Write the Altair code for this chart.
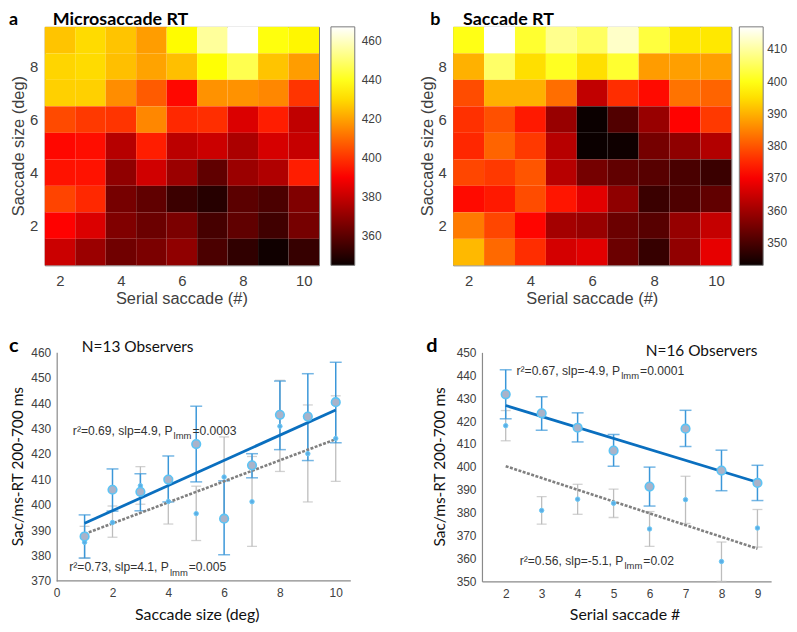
import altair as alt
import pandas as pd

# ---------------- data ----------------
serial = [2, 3, 4, 5, 6, 7, 8, 9, 10]
sizes = [9, 8, 7, 6, 5, 4, 3, 2, 1]

ms_rt = [
    [426, 430, 426, 419, 436, 455, 467, 438, 435],
    [429, 430, 425, 420, 425, 437, 446, 426, 419],
    [428, 428, 416, 407, 392, 417, 417, 415, 400],
    [404, 401, 400, 415, 398, 399, 384, 396, 379],
    [392, 393, 377, 396, 378, 381, 375, 383, 380],
    [394, 394, 370, 382, 372, 361, 372, 376, 396],
    [403, 398, 365, 361, 354, 350, 360, 357, 367],
    [391, 384, 367, 363, 366, 356, 361, 355, 365],
    [381, 372, 364, 366, 370, 357, 352, 346, 353],
]
sac_rt = [
    [400, 417, 402, 408.7, 405.5, 413, 403, 396, 396],
    [390, 406, 395, 401, 395, 402, 387.7, 388, 388],
    [379, 390, 390, 382.7, 363.7, 375.6, 371.8, 383.3, 381.6],
    [376, 379.5, 373.5, 359, 343, 351, 359, 371, 377],
    [375, 381.6, 377, 362.6, 343, 343.5, 355, 358, 362],
    [378.4, 377, 380, 362.6, 355, 352.8, 351.7, 350, 348.4],
    [371.8, 373.5, 379, 373, 367.5, 358, 348.4, 350.6, 352.8],
    [384, 378.4, 371.3, 360.4, 359, 353.9, 351.7, 358.8, 364.2],
    [390.9, 382.2, 375.6, 365.9, 367.5, 353.9, 347.9, 358.2, 368],
]
ms_range = [345, 467]
sac_range = [343, 417]
ms_ticks = [360, 380, 400, 420, 440, 460]
sac_ticks = [350, 360, 370, 380, 390, 400, 410]

# panel c: RT vs saccade size
c_x = [1, 2, 3, 4, 5, 6, 7, 8, 9, 10]
c_big = [387.5, 405.9, 405.1, 409.9, 423.9, 394.5, 415.5, 435.4, 434.7, 440.4]
c_big_lo = [379, 397.5, 397.6, 401.1, 409, 380.3, 410.6, 421.7, 417.4, 424.4]
c_big_hi = [396, 414.1, 412.2, 419.2, 438.8, 409.4, 420.1, 448.7, 451.6, 456.1]
c_small = [385.2, 393, 407.5, 401.3, 396.5, 410.9, 401.2, 430.9, 420.1, 426.1]
c_small_lo = [379, 387.2, 400.2, 392.4, 385.9, 394.5, 383.6, 413.1, 401.1, 409.2]
c_small_hi = [391.5, 399.5, 415, 410.5, 407.3, 426.7, 419, 449, 439.3, 442.9]
c_fit_x = [1, 10]
c_big_fit = [392.7, 437.3]
c_small_fit = [388.5, 425.8]

# panel d: RT vs serial saccade
d_x = [2, 3, 4, 5, 6, 7, 8, 9]
d_big = [431.7, 423.4, 417.1, 407.1, 391.4, 416.7, 398.4, 393]
d_big_lo = [421, 416, 410.9, 400.3, 382.9, 408.9, 389.6, 385.3]
d_big_hi = [442.4, 430.6, 423.6, 414.1, 399.9, 424.7, 407.3, 400.7]
d_small = [418, 381, 385.9, 384.1, 372.9, 385.7, 358.7, 373.3]
d_small_lo = [411.4, 375, 379.3, 377.9, 365.3, 375.3, 350, 365]
d_small_hi = [424.6, 387, 392.4, 390.3, 380.5, 395.9, 367.2, 381.4]
d_fit_x = [2, 9]
d_big_fit = [426.8, 393.3]
d_small_fit = [400.3, 364.3]

c_stat_top = ["r²=0.69, slp=4.9, P", "lmm", "=0.0003"]
c_stat_bot = ["r²=0.73, slp=4.1, P", "lmm", "=0.005"]
d_stat_top = ["r²=0.67, slp=-4.9, P", "lmm", "=0.0001"]
d_stat_bot = ["r²=0.56, slp=-5.1, P", "lmm", "=0.02"]
c_note = "N=13 Observers"
d_note = "N=16 Observers"

# ---------------- styling helpers ----------------
HOT = ["#0b0000", "#ff0000", "#ffff00", "#ffffff"]
HOT_POS = [0.0, 0.375, 0.75, 1.0]
ARIAL = "Liberation Sans"
CAL = "Lato"
LABEL_C = "#404040"
AXIS_C = "#8a8a8a"


def txt(text, x, y, size, font=ARIAL, weight="normal", color="#000",
        align="left", baseline="alphabetic", angle=0):
    return alt.Chart(pd.DataFrame({"t": [text]})).mark_text(
        align=align, baseline=baseline, font=font, fontSize=size,
        fontWeight=weight, color=color, angle=angle
    ).encode(text="t:N", x=alt.value(x), y=alt.value(y))


def heat(values, rng, ticks, width, height, letter, title, letter_dx, title_dx,
         leg_off, lab_off):
    rows = []
    for r, s in enumerate(sizes):
        for k, sr in enumerate(serial):
            rows.append({"serial": sr, "size": s, "rt": values[r][k]})
    df = pd.DataFrame(rows)
    lo, hi = rng
    stops = [lo + (hi - lo) * p for p in HOT_POS]
    cs = alt.Scale(domain=stops, range=HOT, interpolate="rgb", nice=False, zero=False)
    xs = alt.Scale(domain=[1.5, 10.5], nice=False, zero=False)
    ys = alt.Scale(domain=[0.5, 9.5], nice=False, zero=False)
    xax = alt.Axis(values=[2, 4, 6, 8, 10], title=None, ticks=False,
                   domain=False, labelPadding=8.5, labelFontSize=15)
    yax = alt.Axis(values=[2, 4, 6, 8], title=None, ticks=False,
                   domain=False, labelPadding=7, labelFontSize=15)
    rect = alt.Chart(df).transform_calculate(
        x0="datum.serial - 0.5", x1="datum.serial + 0.5",
        y0="datum.size - 0.5", y1="datum.size + 0.5",
    ).mark_rect().encode(
        x=alt.X("x0:Q", scale=xs, axis=xax),
        x2="x1:Q",
        y=alt.Y("y0:Q", scale=ys, axis=yax),
        y2="y1:Q",
        color=alt.Color("rt:Q", scale=cs, legend=alt.Legend(
            type="gradient", title=None, values=ticks, direction="vertical",
            orient="right", offset=leg_off, gradientLength=height,
            gradientThickness=24, gradientStrokeColor="#7a7a7a",
            gradientStrokeWidth=1, labelOffset=lab_off, labelFontSize=12,
            labelFont=ARIAL, labelColor=LABEL_C)),
    )
    layers = [
        rect,
        txt(letter, letter_dx, -2, 18, CAL, "bold"),
        txt(title, title_dx, -2, 18, CAL, "bold"),
        txt("Saccade size (deg)", -25.5, height / 2, 16.5, ARIAL, color=LABEL_C,
            align="center", baseline="middle", angle=270),
        txt("Serial saccade (#)", width / 2, height + 34, 16.5, ARIAL, color=LABEL_C,
            align="center", baseline="middle"),
    ]
    return alt.layer(*layers).properties(
        width=width, height=height,
        view=alt.ViewBackground(stroke="#7a7a7a", strokeWidth=1))


AW = {"r": 333, "²": 333, "=": 584, ".": 278, ",": 278, " ": 278, "s": 500,
      "l": 222, "p": 556, "P": 667, "-": 333, "m": 833}


def tw(s, fs):
    return sum(AW.get(ch, 556) for ch in s) * fs / 1000.0


def scatter(xv, big, blo, bhi, small, slo, shi, fx, fbig, fsmall,
            xdom, xvals, ydom, yvals, xtitle, width, height,
            stats, note, letter, letter_dx, ytitle_x, inset):
    # inset: pixels between the left edge of the panel and the y axis
    ppu = (width - inset) / (xdom[1] - xdom[0])
    xs = alt.Scale(domain=[xdom[0] - inset / ppu, xdom[1]], nice=False, zero=False)
    ys = alt.Scale(domain=ydom, nice=False, zero=False)
    xax = alt.Axis(values=xvals, title=None, ticks=False, labelPadding=7,
                   domain=(inset == 0))
    if inset:
        yax = alt.Axis(values=yvals, title=None, ticks=False, labelPadding=6,
                       offset=-inset)
    else:
        yax = alt.Axis(values=yvals, title=None, ticks=False, labelPadding=6)

    def X(f):
        return alt.X(f + ":Q", scale=xs, axis=xax)

    def Y(f):
        return alt.Y(f + ":Q", scale=ys, axis=yax)

    df = pd.DataFrame({"x": xv, "big": big, "blo": blo, "bhi": bhi,
                       "small": small, "slo": slo, "shi": shi})
    fit = pd.DataFrame({"x": fx, "fbig": fbig, "fsmall": fsmall})
    base = alt.Chart(df)
    gray = "#bdbdbd"
    blue = "#3a97d9"
    layers = []
    if inset:
        axis_df = pd.DataFrame({"x0": [xdom[0]], "x1": [xdom[1]], "y": [ydom[0]]})
        layers.append(alt.Chart(axis_df).mark_rule(color=AXIS_C, strokeWidth=1.2).encode(
            x=X("x0"), x2="x1:Q", y=Y("y")))
    layers += [
        base.mark_rule(color=gray, strokeWidth=1.3).encode(x=X("x"), y=Y("slo"), y2="shi:Q"),
        base.mark_tick(color=gray, thickness=1.3, size=10, orient="horizontal").encode(x=X("x"), y=Y("slo")),
        base.mark_tick(color=gray, thickness=1.3, size=10, orient="horizontal").encode(x=X("x"), y=Y("shi")),
        base.mark_rule(color=blue, strokeWidth=1.5).encode(x=X("x"), y=Y("blo"), y2="bhi:Q"),
        base.mark_tick(color=blue, thickness=1.5, size=12, orient="horizontal").encode(x=X("x"), y=Y("blo")),
        base.mark_tick(color=blue, thickness=1.5, size=12, orient="horizontal").encode(x=X("x"), y=Y("bhi")),
        alt.Chart(fit).mark_line(color="#808080", strokeWidth=2.6, strokeDash=[3, 1.5]).encode(x=X("x"), y=Y("fsmall")),
        alt.Chart(fit).mark_line(color="#0a6fbf", strokeWidth=2.8).encode(x=X("x"), y=Y("fbig")),
        base.mark_point(shape="circle", filled=True, size=20, fill="#5aaee6",
                        stroke="#6fcaf5", strokeWidth=1, opacity=1).encode(x=X("x"), y=Y("small")),
        base.mark_point(shape="circle", filled=True, size=75, fill="#a9b3c9",
                        stroke="#5cc4f5", strokeWidth=1.6, opacity=1).encode(x=X("x"), y=Y("big")),
    ]
    for (sx, sy, parts) in stats:
        dx = 0.0
        spec = [(parts[0], 12.2, 0), (parts[1], 9.5, 5.5), (parts[2], 12.2, 0)]
        for (t, fs, dy) in spec:
            layers.append(
                alt.Chart(pd.DataFrame({"x": [sx], "y": [sy], "t": [t]})).mark_text(
                    align="left", baseline="middle", dx=dx, dy=dy, fontSize=fs,
                    font=ARIAL, color="#333"
                ).encode(x=X("x"), y=Y("y"), text="t:N"))
            dx += tw(t, fs) + 1.0
    nx, ny, nalign, ntext, nsize = note
    layers.append(
        alt.Chart(pd.DataFrame({"x": [nx], "y": [ny], "t": [ntext]})).mark_text(
            align=nalign, baseline="middle", fontSize=nsize, font=CAL, color="#111"
        ).encode(x=X("x"), y=Y("y"), text="t:N"))
    layers.append(txt(letter, letter_dx, 0, 20, CAL, "bold"))
    layers.append(txt("Sac/ms-RT 200-700 ms", ytitle_x, height / 2, 15.5, CAL,
                      color="#111", align="center", baseline="middle", angle=270))
    layers.append(txt(xtitle[0], xtitle[1], height + 34, 16, CAL,
                      color="#111", align="center", baseline="middle"))
    return alt.layer(*layers).properties(width=width, height=height)


a = heat(ms_rt, ms_range, ms_ticks, 276, 240, "a", "Microsaccade RT", -36, 8, 12, 7)
b = heat(sac_rt, sac_range, sac_ticks, 280, 240, "b", "Saccade RT", -23, 10, 8, 4)

c = scatter(c_x, c_big, c_big_lo, c_big_hi, c_small, c_small_lo, c_small_hi,
            c_fit_x, c_big_fit, c_small_fit,
            [0, 10.54], [0, 2, 4, 6, 8, 10], [370, 460], list(range(370, 461, 10)),
            ("Saccade size (deg)", 12 + 148 - 6.5), 308, 230,
            [(0.58, 429.2, c_stat_top), (0.45, 375.3, c_stat_bot)],
            (0.9, 462.2, "left", c_note, 15.5), "c", -36, -26.75, 12)
d = scatter(d_x, d_big, d_big_lo, d_big_hi, d_small, d_small_lo, d_small_hi,
            d_fit_x, d_big_fit, d_small_fit,
            [1.34, 9.38], [2, 3, 4, 5, 6, 7, 8, 9], [350, 450], list(range(350, 451, 10)),
            ("Serial saccade #", 291 / 2 - 1.5), 291, 230.5,
            [(2.3, 442.0, d_stat_top), (2.39, 359.1, d_stat_bot)],
            (9.0, 450.7, "right", d_note, 15.5), "d", -56, -42, 0)

top = alt.hconcat(a, b, spacing=35).resolve_scale(color="independent")
bottom = alt.hconcat(c, d, spacing=73).resolve_scale(x="independent", y="independent")

chart = alt.vconcat(top, bottom, spacing=27.6).resolve_scale(
    color="independent"
).properties(
    padding={"left": 0, "top": 0, "right": 0, "bottom": 0}
).configure_view(
    stroke="transparent"
).configure_axis(
    grid=False, labelFont=ARIAL, labelFontSize=12, labelColor=LABEL_C,
    domainColor=AXIS_C, domainWidth=1.2
)

chart.save("out.html", embed_options={"renderer": "svg", "actions": False})
